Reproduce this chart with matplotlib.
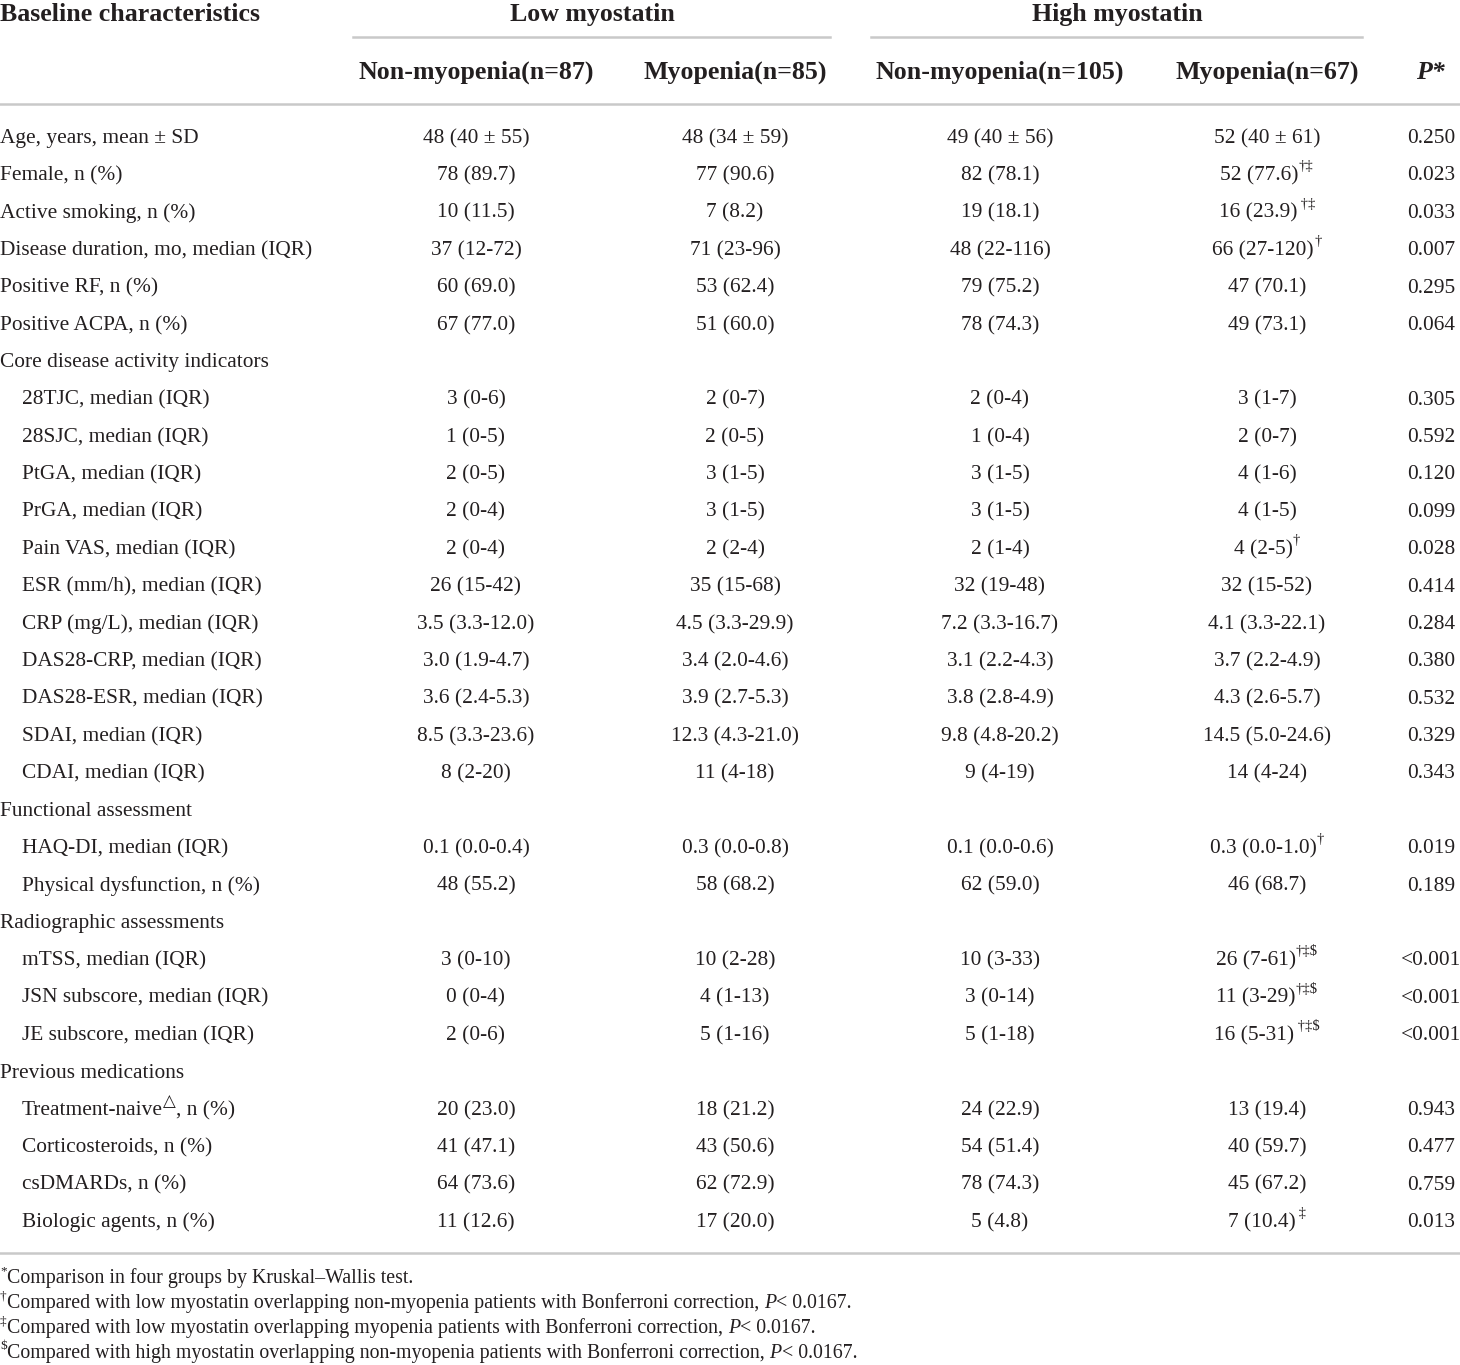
import matplotlib
matplotlib.use("Agg")
import matplotlib.pyplot as plt
from matplotlib.transforms import IdentityTransform

W, H = 1460, 1365
DPI = 100

row_labels = [
    "Age, years, mean ± SD", "Female, n (%)", "Active smoking, n (%)",
    "Disease duration, mo, median (IQR)", "Positive RF, n (%)", "Positive ACPA, n (%)",
    "Core disease activity indicators",
    "28TJC, median (IQR)", "28SJC, median (IQR)", "PtGA, median (IQR)", "PrGA, median (IQR)",
    "Pain VAS, median (IQR)", "ESR (mm/h), median (IQR)", "CRP (mg/L), median (IQR)",
    "DAS28-CRP, median (IQR)", "DAS28-ESR, median (IQR)", "SDAI, median (IQR)", "CDAI, median (IQR)",
    "Functional assessment",
    "HAQ-DI, median (IQR)", "Physical dysfunction, n (%)",
    "Radiographic assessments",
    "mTSS, median (IQR)", "JSN subscore, median (IQR)", "JE subscore, median (IQR)",
    "Previous medications",
    "Treatment-naive", "Corticosteroids, n (%)", "csDMARDs, n (%)", "Biologic agents, n (%)",
]
section_rows = ["Core disease activity indicators", "Functional assessment",
                "Radiographic assessments", "Previous medications"]

low_non = ["48 (40 ± 55)", "78 (89.7)", "10 (11.5)", "37 (12-72)", "60 (69.0)", "67 (77.0)", "",
           "3 (0-6)", "1 (0-5)", "2 (0-5)", "2 (0-4)", "2 (0-4)", "26 (15-42)", "3.5 (3.3-12.0)",
           "3.0 (1.9-4.7)", "3.6 (2.4-5.3)", "8.5 (3.3-23.6)", "8 (2-20)", "",
           "0.1 (0.0-0.4)", "48 (55.2)", "", "3 (0-10)", "0 (0-4)", "2 (0-6)", "",
           "20 (23.0)", "41 (47.1)", "64 (73.6)", "11 (12.6)"]
low_myo = ["48 (34 ± 59)", "77 (90.6)", "7 (8.2)", "71 (23-96)", "53 (62.4)", "51 (60.0)", "",
           "2 (0-7)", "2 (0-5)", "3 (1-5)", "3 (1-5)", "2 (2-4)", "35 (15-68)", "4.5 (3.3-29.9)",
           "3.4 (2.0-4.6)", "3.9 (2.7-5.3)", "12.3 (4.3-21.0)", "11 (4-18)", "",
           "0.3 (0.0-0.8)", "58 (68.2)", "", "10 (2-28)", "4 (1-13)", "5 (1-16)", "",
           "18 (21.2)", "43 (50.6)", "62 (72.9)", "17 (20.0)"]
high_non = ["49 (40 ± 56)", "82 (78.1)", "19 (18.1)", "48 (22-116)", "79 (75.2)", "78 (74.3)", "",
            "2 (0-4)", "1 (0-4)", "3 (1-5)", "3 (1-5)", "2 (1-4)", "32 (19-48)", "7.2 (3.3-16.7)",
            "3.1 (2.2-4.3)", "3.8 (2.8-4.9)", "9.8 (4.8-20.2)", "9 (4-19)", "",
            "0.1 (0.0-0.6)", "62 (59.0)", "", "10 (3-33)", "3 (0-14)", "5 (1-18)", "",
            "24 (22.9)", "54 (51.4)", "78 (74.3)", "5 (4.8)"]
high_myo = ["52 (40 ± 61)", "52 (77.6)", "16 (23.9)", "66 (27-120)", "47 (70.1)", "49 (73.1)", "",
            "3 (1-7)", "2 (0-7)", "4 (1-6)", "4 (1-5)", "4 (2-5)", "32 (15-52)", "4.1 (3.3-22.1)",
            "3.7 (2.2-4.9)", "4.3 (2.6-5.7)", "14.5 (5.0-24.6)", "14 (4-24)", "",
            "0.3 (0.0-1.0)", "46 (68.7)", "", "26 (7-61)", "11 (3-29)", "16 (5-31)", "",
            "13 (19.4)", "40 (59.7)", "45 (67.2)", "7 (10.4)"]
high_myo_sup = ["", "†‡", " †‡", "†", "", "", "",
                "", "", "", "", "†", "", "", "", "", "", "", "",
                "†", "", "", "†‡$", "†‡$", " †‡$", "",
                "", "", "", " ‡"]
p_values = ["0.250", "0.023", "0.033", "0.007", "0.295", "0.064", "",
            "0.305", "0.592", "0.120", "0.099", "0.028", "0.414", "0.284", "0.380", "0.532",
            "0.329", "0.343", "", "0.019", "0.189", "", "<0.001", "<0.001", "<0.001", "",
            "0.943", "0.477", "0.759", "0.013"]

group_headers = ["Low myostatin", "High myostatin"]
sub_headers = ["Non-myopenia(n=87)", "Myopenia(n=85)", "Non-myopenia(n=105)", "Myopenia(n=67)"]
footnotes = [
    ("*", [("Comparison in four groups by Kruskal–Wallis test.", "normal")]),
    ("†", [("Compared with low myostatin overlapping non-myopenia patients with Bonferroni correction, ", "normal"),
           ("P", "italic"), ("< 0.0167.", "normal")]),
    ("‡", [("Compared with low myostatin overlapping myopenia patients with Bonferroni correction, ", "normal"),
           ("P", "italic"), ("< 0.0167.", "normal")]),
    ("$", [("Compared with high myostatin overlapping non-myopenia patients with Bonferroni correction, ", "normal"),
           ("P", "italic"), ("< 0.0167.", "normal")]),
]

TXT = "#231f20"
LINE = "#c9c9c9"
FAM = ["Liberation Serif", "DejaVu Serif", "DejaVu Sans"]
BODY = 15.4
HEAD = 18.6
SUP = 10.5
FOOT = 14.3

fig = plt.figure(figsize=(W / DPI, H / DPI), dpi=DPI)
fig.patch.set_facecolor("white")
renderer = fig.canvas.get_renderer()
T = IdentityTransform()


def put(x, y, s, size=BODY, ha="left", weight="normal", style="normal", va="center_baseline"):
    return fig.text(x, H - y, s, transform=T, fontsize=size, ha=ha, va=va,
                    fontweight=weight, fontstyle=style, color=TXT, family=FAM)


def width(t):
    return t.get_window_extent(renderer).width


def runs(x, y, parts, ha="left"):
    # parts: list of (text, size, weight, style, dy)
    objs = []
    for s, size, wt, st, dy in parts:
        t = put(0, y - dy, s, size=size, weight=wt, style=st, ha="left")
        objs.append(t)
    ws = [width(t) for t in objs]
    total = sum(ws)
    cx = x - total / 2 if ha == "center" else x
    for t, w in zip(objs, ws):
        t.set_position((cx, t.get_position()[1]))
        cx += w


def hline(x0, x1, y, lw=1.8):
    fig.add_artist(plt.Line2D([x0 / W, x1 / W], [1 - y / H, 1 - y / H],
                              transform=fig.transFigure, color=LINE, lw=lw))


# header
put(0, 12, "Baseline characteristics", size=HEAD, weight="bold")
put(592, 12, group_headers[0], size=HEAD, weight="bold", ha="center")
put(1117, 12, group_headers[1], size=HEAD, weight="bold", ha="center")
hline(353, 830, 37)
hline(871, 1362, 37)
col_x = [476, 735, 1000, 1267]
for cx, s in zip(col_x, sub_headers):
    put(cx, 70, s, size=HEAD, weight="bold", ha="center")
put(1430, 70, "P*", size=HEAD, weight="bold", style="italic", ha="center")
hline(0, W, 104)

# rows
y0, dy = 136, 37.38
for i, lab in enumerate(row_labels):
    y = y0 + i * dy
    if lab in section_rows:
        put(0, y, lab)
        continue
    if lab == "Treatment-naive":
        runs(22, y, [(lab, BODY, "normal", "normal", 0),
                     ("△", 12, "normal", "normal", 8),
                     (", n (%)", BODY, "normal", "normal", 0)])
    else:
        put(22 if i >= 7 else 0, y, lab)
    put(col_x[0], y, low_non[i], ha="center")
    put(col_x[1], y, low_myo[i], ha="center")
    put(col_x[2], y, high_non[i], ha="center")
    if high_myo_sup[i]:
        runs(col_x[3], y, [(high_myo[i], BODY, "normal", "normal", 0),
                           (high_myo_sup[i], SUP, "normal", "normal", 8)], ha="center")
    else:
        put(col_x[3], y, high_myo[i], ha="center")
    put(1431, y, p_values[i], ha="center")

hline(0, W, 1253)

# footnotes
fy = [1276, 1301, 1326, 1351]
for (mark, parts), y in zip(footnotes, fy):
    items = [(mark, 9.5, "normal", "normal", 6)]
    for s, st in parts:
        items.append((s, FOOT, "normal", st, 0))
    runs(0, y, items)

fig.savefig("out.png", dpi=DPI, facecolor="white")
